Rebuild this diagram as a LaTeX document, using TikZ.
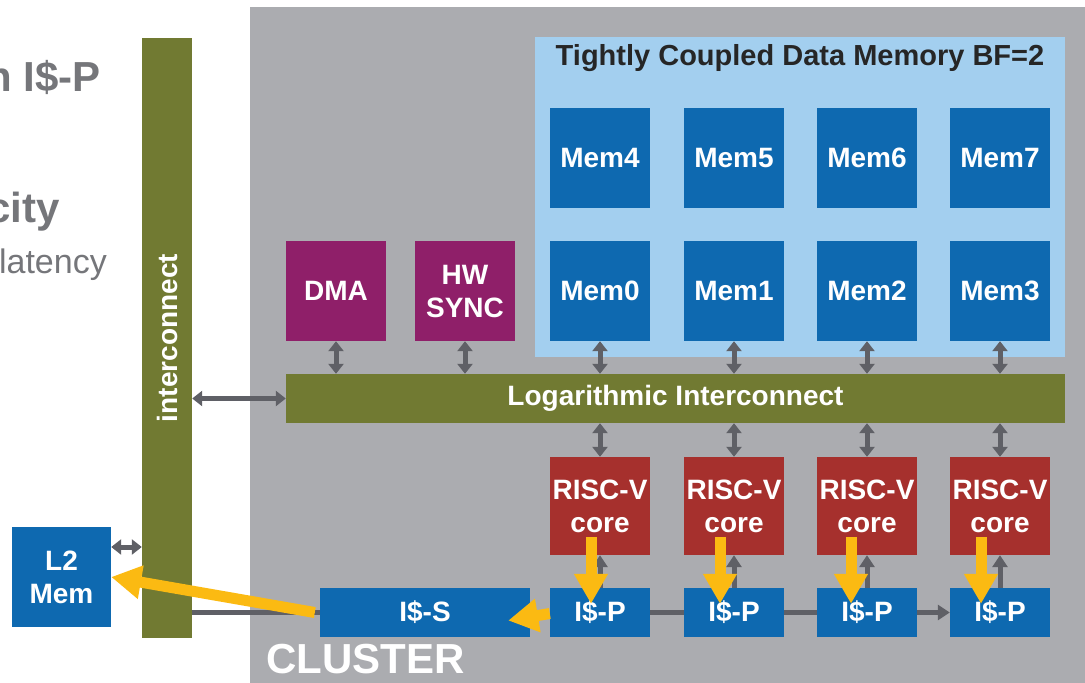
\documentclass[tikz,border=0pt]{standalone}
\usepackage{fontspec}
\setmainfont{Liberation Sans}
\usepackage{tikz}
\usetikzlibrary{arrows.meta, positioning, calc}
\definecolor{clustergray}{HTML}{ABACB0}
\definecolor{tcdmblue}{HTML}{A3CFEF}
\definecolor{memblue}{HTML}{0E69B0}
\definecolor{ctrlpurple}{HTML}{8F1F69}
\definecolor{corered}{HTML}{A6302D}
\definecolor{busolive}{HTML}{717A32}
\definecolor{linkgray}{HTML}{5F6066}
\definecolor{fetchyellow}{HTML}{FBBA12}
\definecolor{slidegray}{HTML}{75767A}

\begin{document}
\begin{tikzpicture}[x=1pt,y=-1pt,
    blk/.style={minimum width=100pt,minimum height=100pt,inner sep=0pt,align=center,
                text=white,font=\bfseries\fontsize{28}{33}\selectfont},
    mem/.style={blk,fill=memblue},
    ctrl/.style={blk,fill=ctrlpurple},
    core/.style={blk,fill=corered,minimum height=98pt},
    cache/.style={blk,fill=memblue,minimum height=49pt},
    bus/.style={blk,fill=busolive},
    link/.style={{Triangle[width=15pt,length=10pt]}-{Triangle[width=15pt,length=10pt]},
                line width=5pt,draw=linkgray},
    wire/.style={line width=5pt,draw=linkgray},
    feed/.style={wire,-{Triangle[width=15pt,length=12pt]}},
    fetch/.style={-{Triangle[width=32pt,length=30pt]},line width=11pt,draw=fetchyellow},
    slide/.style={text=slidegray,inner sep=0pt}]
    \useasboundingbox (0,0) rectangle (1085,683);

    % slide text cut off on the left
    \node[slide,anchor=base east,font=\bfseries\fontsize{42}{44}\selectfont] (head1) at (101,91) {n I\$-P};
    \node[slide,anchor=base east,font=\bfseries\fontsize{42}{44}\selectfont] (head2) at (60,222) {city};
    \node[slide,anchor=base east,font=\fontsize{34}{36}\selectfont] (head3) at (107,273) {latency};

    % cluster and memory
    \node[fill=clustergray,minimum width=835pt,minimum height=676pt,inner sep=0pt] (cluster) at (667.5,345) {};
    \node[text=white,anchor=base west,inner sep=0pt,font=\bfseries\fontsize{42}{44}\selectfont] (clustername) at (266,673) {CLUSTER};
    \node[fill=tcdmblue,minimum width=530pt,minimum height=320pt,inner sep=0pt] (tcdm) at (800,197) {};
    \node[text=black!85,font=\bfseries\fontsize{29}{30}\selectfont] (tcdmtitle) at (800,58) {Tightly Coupled Data Memory BF=2};

    \node[mem] (mem4) at (600,158) {Mem4};
    \node[mem] (mem5) at (734,158) {Mem5};
    \node[mem] (mem6) at (867,158) {Mem6};
    \node[mem] (mem7) at (1000,158) {Mem7};
    \node[mem] (mem0) at (600,291) {Mem0};
    \node[mem] (mem1) at (734,291) {Mem1};
    \node[mem] (mem2) at (867,291) {Mem2};
    \node[mem] (mem3) at (1000,291) {Mem3};

    \node[ctrl] (dma) at (336,291) {DMA};
    \node[ctrl] (sync) at (465,291) {HW\\SYNC};

    \node[bus,minimum width=779pt,minimum height=49pt] (log) at (675.5,398.5) {Logarithmic Interconnect};

    \node[core] (core0) at (600,506) {RISC-V\\core};
    \node[core] (core1) at (734,506) {RISC-V\\core};
    \node[core] (core2) at (867,506) {RISC-V\\core};
    \node[core] (core3) at (1000,506) {RISC-V\\core};

    \node[cache,minimum width=210pt] (iss) at (425,612.5) {I\$-S};
    \node[cache] (isp0) at (600,612.5) {I\$-P};
    \node[cache] (isp1) at (734,612.5) {I\$-P};
    \node[cache] (isp2) at (867,612.5) {I\$-P};
    \node[cache] (isp3) at (1000,612.5) {I\$-P};

    % system side
    \node[bus,minimum width=50pt,minimum height=600pt] (ic) at (167,338) {};
    \node[text=white,rotate=90,font=\bfseries\fontsize{28}{30}\selectfont] (iclabel) at (ic) {interconnect};
    \node[mem,minimum width=99pt] (l2) at (61.5,577) {L2\\Mem};

    % links
    \draw[link] (dma.south) -- (dma.south |- log.north);
    \draw[link] (sync.south) -- (sync.south |- log.north);
    \draw[link] (mem0.south) -- (mem0.south |- log.north);
    \draw[link] (mem1.south) -- (mem1.south |- log.north);
    \draw[link] (mem2.south) -- (mem2.south |- log.north);
    \draw[link] (mem3.south) -- (mem3.south |- log.north);
    \draw[link] (core0.north |- log.south) -- (core0.north);
    \draw[link] (core1.north |- log.south) -- (core1.north);
    \draw[link] (core2.north |- log.south) -- (core2.north);
    \draw[link] (core3.north |- log.south) -- (core3.north);
    \draw[link] (ic.east |- log.west) -- (log.west);
    \draw[link] ([yshift=30pt]l2.east) -- ([yshift=30pt]l2.east -| ic.west);

    \draw[wire] (ic.east |- iss.west) -- (iss.west);
    \draw[wire] (isp0.east) -- (isp1.west);
    \draw[wire] (isp1.east) -- (isp2.west);
    \draw[feed] (isp2.east) -- (isp3.west);
    \draw[feed] (isp0.north) -- (core0.south);
    \draw[feed] (isp1.north) -- (core1.south);
    \draw[feed] (isp2.north) -- (core2.south);
    \draw[feed] (isp3.north) -- (core3.south);

    % instruction fetch path
    \draw[fetch] ([xshift=-9pt,yshift=18pt]core0.south) -- ([xshift=-9pt,yshift=-16pt]isp0.north);
    \draw[fetch] ([xshift=-14pt,yshift=18pt]core1.south) -- ([xshift=-14pt,yshift=-16pt]isp1.north);
    \draw[fetch] ([xshift=-16pt,yshift=18pt]core2.south) -- ([xshift=-16pt,yshift=-16pt]isp2.north);
    \draw[fetch] ([xshift=-19pt,yshift=18pt]core3.south) -- ([xshift=-19pt,yshift=-16pt]isp3.north);
    \draw[fetch] ([yshift=-1pt]isp0.west) -- ([xshift=-22pt,yshift=-8pt]iss.east);
    \draw[fetch] ([xshift=-5pt]iss.west) -- (l2.east);
\end{tikzpicture}
\end{document}
